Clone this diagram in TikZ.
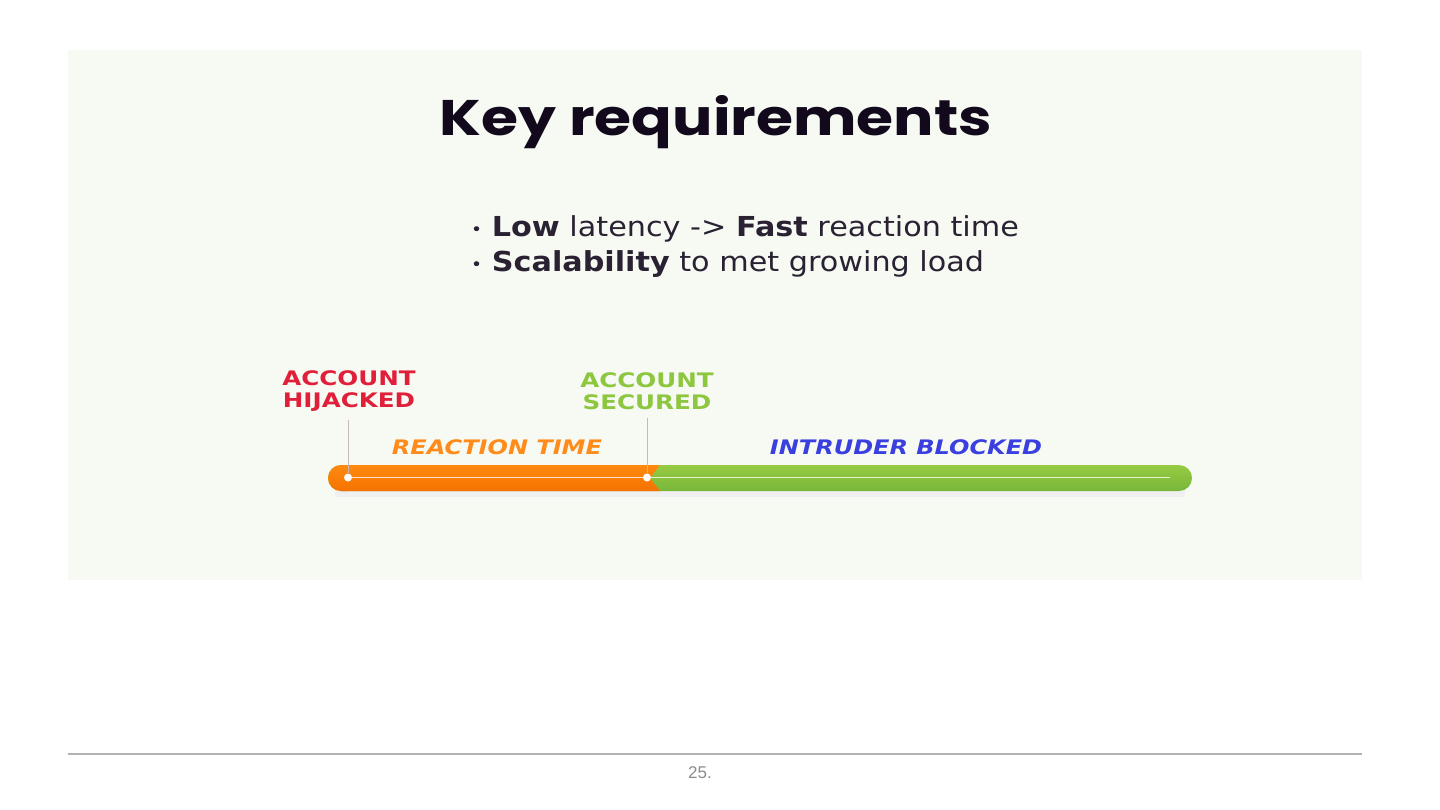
\documentclass[tikz,border=0pt]{standalone}
\usepackage{fontspec}
\setmainfont{DejaVu Sans}
\newfontfamily\titlefont{Poppins}
\newfontfamily\labfont{DejaVu Sans}
\newfontfamily\pagefont{Liberation Sans}
\definecolor{panel}{HTML}{F7FAF3}
\definecolor{redlab}{HTML}{E0203A}
\definecolor{greenlab}{HTML}{8DC63F}
\definecolor{orangelab}{HTML}{FF8C1A}
\definecolor{bluelab}{HTML}{3A3FE0}
\definecolor{barorange}{HTML}{FF8A10}
\definecolor{barorangedk}{HTML}{F57200}
\definecolor{bargreen}{HTML}{97CB42}
\definecolor{bargreendk}{HTML}{78B63A}
\definecolor{ticklc}{HTML}{C8B8B8}
\definecolor{titlec}{HTML}{120A1C}
\newcommand\bulletdot{{\fontsize{17}{17}\selectfont\raisebox{1pt}{•}}}
\tikzset{
  lab/.style={font=\labfont\bfseries\fontsize{20}{22}\selectfont, align=center, inner sep=0pt, xscale=1.23},
  ital/.style={font=\labfont\bfseries\itshape\fontsize{20}{22}\selectfont, inner sep=0pt, xscale=1.2},
  bul/.style={anchor=base west, font=\fontsize{27.5}{30}\selectfont, text=titlec!90, inner sep=0pt, xscale=1.1},
  tick/.style={draw=ticklc, line width=1pt},
  dot/.style={circle, fill=white, minimum size=8pt, inner sep=0pt},
}
\begin{document}
\begin{tikzpicture}[x=1pt,y=-1pt]
\useasboundingbox (0,0) rectangle (1440,810);
\fill[white] (0,0) rectangle (1440,810);
\fill[panel] (68,50) rectangle (1362,580);
% title
\node[font=\titlefont\bfseries\fontsize{50}{55}\selectfont, text=titlec, inner sep=0pt, xscale=1.2] (title) at (716,122) {Key requirements};
% bullets
\node[bul] (b1) at (471,237) {\bulletdot{} \textbf{Low} latency -> \textbf{Fast} reaction time};
\node[bul] (b2) at (471,272) {\bulletdot{} \textbf{Scalability} to met growing load};
% bar shadow
\fill[black!6] (335,487) rectangle (1185,497);
% bar
\shade[top color=bargreen, bottom color=bargreendk, rounded corners=13pt] (328,465) rectangle (1192,491);
\shade[top color=barorange, bottom color=barorangedk] (341,465) -- (660,465) -- (650,478) -- (660,491) -- (341,491) -- cycle;
\shade[top color=barorange, bottom color=barorangedk] (341,465) arc (90:270:13pt) -- (346,491) -- (346,465) -- cycle;
% inner line
\coordinate (ps) at (348,477.5);
\coordinate (pe) at (647,477.5);
\coordinate (pend) at (1170,477.5);
\draw[white!80!orange, line width=1pt] (ps) -- (pe);
\draw[white!75!bargreen, line width=1pt] (pe) -- (pend);
\node[dot] (d1) at (ps) {};
\node[dot] (d2) at (pe) {};
% labels
\node[lab, text=redlab] (hij) at (349,391) {ACCOUNT\\[0pt]HIJACKED};
\node[lab, text=greenlab] (sec) at (647,391) {ACCOUNT\\[0pt]SECURED};
\coordinate (t1) at (348,420);
\coordinate (t2) at (647,418);
\draw[tick] (t1) -- (d1);
\draw[tick] (t2) -- (d2);
\node[ital, text=orangelab] (react) at (497,447) {REACTION TIME};
\node[ital, text=bluelab] (intr) at (906,447) {INTRUDER BLOCKED};
% footer
\coordinate (fl) at (68,754);
\coordinate (fr) at (1362,754);
\draw[black!30, line width=1.2pt] (fl) -- (fr);
\node[font=\pagefont\fontsize{17}{20}\selectfont, text=black!45] (pg) at (700,773) {25.};
\end{tikzpicture}
\end{document}
